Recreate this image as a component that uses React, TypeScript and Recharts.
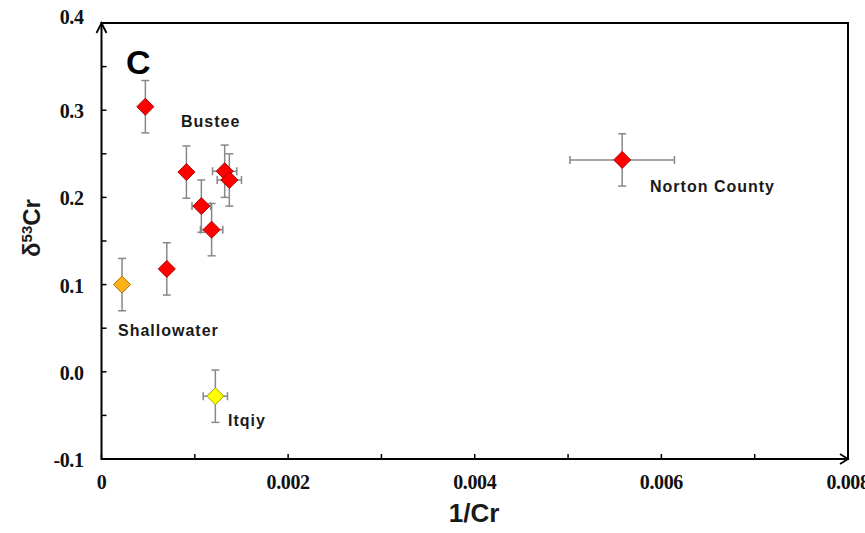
import {
  ErrorBar,
  ReferenceArea,
  ReferenceDot,
  Scatter,
  ScatterChart,
  XAxis,
  YAxis,
} from "recharts"

// red: Bustee cluster + Norton County
const redX = [0.00047, 0.00091, 0.00132, 0.00137, 0.00107, 0.00118, 0.0007, 0.00558]
const redY = [0.304, 0.229, 0.23, 0.22, 0.19, 0.163, 0.118, 0.243]
const redEx = [0, 0, 0.00013, 0.00013, 0.0001, 0.00012, 0, 0.00056]
const redEy = [0.03, 0.03, 0.03, 0.03, 0.03, 0.03, 0.03, 0.03]

// Shallowater
const orangeX = [0.00022]
const orangeY = [0.1]
const orangeEx = [0]
const orangeEy = [0.03]

// Itqiy
const yellowX = [0.00122]
const yellowY = [-0.028]
const yellowEx = [0.00013]
const yellowEy = [0.03]

const xTicks = [0, 0.001, 0.002, 0.003, 0.004, 0.005, 0.006, 0.007, 0.008]
const xTickLabels = ["0", "", "0.002", "", "0.004", "", "0.006", "", "0.008"]
const yTicks = [-0.1, -0.05, 0, 0.05, 0.1, 0.15, 0.2, 0.25, 0.3, 0.35, 0.4]
const yTickLabels = ["-0.1", "", "0.0", "", "0.1", "", "0.2", "", "0.3", "", "0.4"]

function toRows(xs: number[], ys: number[], ex: number[], ey: number[]) {
  return xs.map((x, i) => ({ x, y: ys[i], ex: ex[i], ey: ey[i] }))
}

const redData = toRows(redX, redY, redEx, redEy)
const orangeData = toRows(orangeX, orangeY, orangeEx, orangeEy)
const yellowData = toRows(yellowX, yellowY, yellowEx, yellowEy)

const tickStyle = {
  fontFamily: '"Liberation Serif", "Times New Roman", "DejaVu Serif", serif',
  fontWeight: 700,
  fontSize: 20,
  fill: "#111",
  letterSpacing: -0.4,
}
const labelStyle = {
  fontFamily: '"Liberation Sans", Arial, sans-serif',
  fontWeight: 700,
  fill: "#1a1a1a",
}

function findIdx(list: number[], v: number) {
  return list.findIndex((t) => Math.abs(t - v) < 1e-9)
}

function XTick(props: any) {
  const { x, y, payload } = props
  const label = xTickLabels[findIdx(xTicks, payload.value)]
  return (
    <g>
      <line x1={x} y1={y} x2={x} y2={y - 5} stroke="#000" strokeWidth={1.5} />
      {label && (
        <text x={x} y={y + 30} textAnchor="middle" style={tickStyle}>
          {label}
        </text>
      )}
    </g>
  )
}

function YTick(props: any) {
  const { x, y, payload } = props
  const i = findIdx(yTicks, payload.value)
  const label = yTickLabels[i]
  const shift = i === yTicks.length - 1 ? -7 : 0
  return (
    <g>
      <line x1={x} y1={y} x2={x + 5} y2={y} stroke="#000" strokeWidth={1.5} />
      {label && (
        <text x={x - 18} y={y + 8 + shift} textAnchor="end" style={tickStyle}>
          {label}
        </text>
      )}
    </g>
  )
}

function diamond(fill: string, stroke: string) {
  return (p: any) => {
    const s = 8.5
    return (
      <polygon
        points={`${p.cx},${p.cy - s} ${p.cx + s},${p.cy} ${p.cx},${p.cy + s} ${p.cx - s},${p.cy}`}
        fill={fill}
        stroke={stroke}
        strokeWidth={1}
      />
    )
  }
}

const upArrow = (p: any) => (
  <path
    d={`M${p.cx - 5},${p.cy + 10} L${p.cx},${p.cy} L${p.cx + 5},${p.cy + 10}`}
    fill="none"
    stroke="#000"
    strokeWidth={1.8}
  />
)
const rightArrow = (p: any) => (
  <path
    d={`M${p.cx - 8},${p.cy - 5} L${p.cx},${p.cy} L${p.cx - 8},${p.cy + 5}`}
    fill="none"
    stroke="#000"
    strokeWidth={1.8}
  />
)

const barStyle = { stroke: "#888", strokeWidth: 1.5 }

export default function App() {
  return (
    <div style={{ position: "absolute", left: 0, top: 0, width: 865, height: 533, background: "#fff" }}>
      <ScatterChart
        width={865}
        height={533}
        margin={{ top: 23, right: 17, bottom: 44, left: 41.5 }}
      >
        <XAxis
          type="number"
          dataKey="x"
          domain={[0, 0.008]}
          ticks={xTicks}
          interval={0}
          allowDataOverflow
          height={30}
          tickSize={0}
          tickMargin={0}
          tickLine={false}
          axisLine={false}
          tick={<XTick />}
        />
        <YAxis
          type="number"
          dataKey="y"
          domain={[-0.1, 0.4]}
          ticks={yTicks}
          interval={0}
          allowDataOverflow
          width={60}
          tickSize={0}
          tickMargin={0}
          tickLine={false}
          axisLine={false}
          tick={<YTick />}
        />
        <ReferenceArea
          x1={0}
          x2={0.008}
          y1={-0.1}
          y2={0.4}
          fill="none"
          fillOpacity={0}
          stroke="#000"
          strokeWidth={2}
        />
        <ReferenceDot x={0} y={0.4} shape={upArrow} />
        <ReferenceDot x={0.008} y={-0.1} shape={rightArrow} />
        <Scatter data={redData} shape={diamond("#ff0000", "#b00000")} isAnimationActive={false}>
          <ErrorBar dataKey="ey" direction="y" width={4} {...barStyle} />
          <ErrorBar dataKey="ex" direction="x" width={4} {...barStyle} />
        </Scatter>
        <Scatter data={orangeData} shape={diamond("#fbb117", "#a87400")} isAnimationActive={false}>
          <ErrorBar dataKey="ey" direction="y" width={4} {...barStyle} />
          <ErrorBar dataKey="ex" direction="x" width={4} {...barStyle} />
        </Scatter>
        <Scatter data={yellowData} shape={diamond("#ffff00", "#a0a000")} isAnimationActive={false}>
          <ErrorBar dataKey="ey" direction="y" width={4} {...barStyle} />
          <ErrorBar dataKey="ex" direction="x" width={4} {...barStyle} />
        </Scatter>
      </ScatterChart>
      <svg
        width={865}
        height={533}
        style={{ position: "absolute", left: 0, top: 0, pointerEvents: "none" }}
      >
        <text x={126} y={74} style={{ ...labelStyle, fontSize: 34, fill: "#000" }}>
          C
        </text>
        <text x={181} y={127} style={{ ...labelStyle, fontSize: 16, letterSpacing: 1 }}>
          Bustee
        </text>
        <text x={118} y={336} style={{ ...labelStyle, fontSize: 16, letterSpacing: 1 }}>
          Shallowater
        </text>
        <text x={228} y={426} style={{ ...labelStyle, fontSize: 16, letterSpacing: 1 }}>
          Itqiy
        </text>
        <text x={650} y={192} style={{ ...labelStyle, fontSize: 16, letterSpacing: 1 }}>
          Norton County
        </text>
        <text
          x={40}
          y={228}
          transform="rotate(-90, 40, 228)"
          textAnchor="middle"
          style={{ ...labelStyle, fontSize: 24 }}
        >
          <tspan>δ</tspan>
          <tspan dy={-8} style={{ fontSize: 15 }}>
            53
          </tspan>
          <tspan dy={8}>Cr</tspan>
        </text>
        <text x={474} y={522} textAnchor="middle" style={{ ...labelStyle, fontSize: 26 }}>
          1/Cr
        </text>
      </svg>
    </div>
  )
}
